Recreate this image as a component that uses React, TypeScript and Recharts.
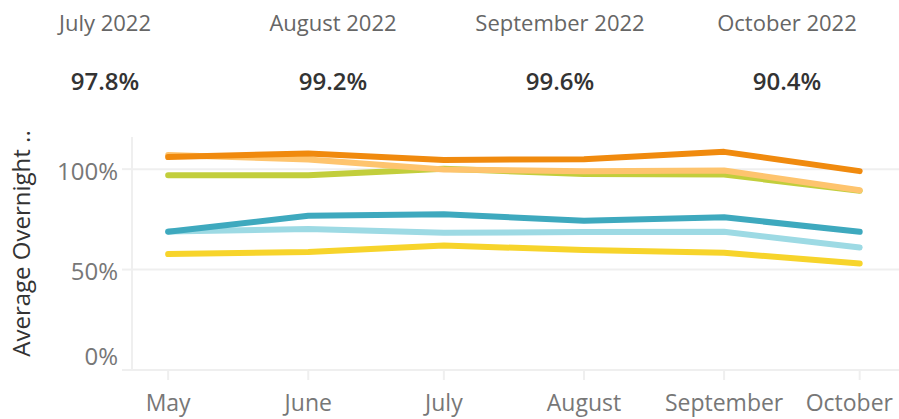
import React from 'react';
import { LineChart, Line, XAxis, YAxis, CartesianGrid } from 'recharts';

// day offsets from May 1 (time axis)
const monthDays = [0, 31, 61, 92, 123, 153];
const monthLabels = ['May', 'June', 'July', 'August', 'September', 'October'];

const darkOrange = [106, 107.8, 104.6, 104.9, 108.6, 99];
const lightOrange = [107, 104.8, 99.8, 99, 99.3, 89.5];
const lime = [97, 97, 100.2, 97.6, 97.3, 89.2];
const teal = [68.8, 76.8, 77.5, 74.3, 76, 68.8];
const lightBlue = [69, 70.2, 68.3, 68.7, 68.8, 61];
const yellow = [57.7, 58.7, 62, 59.7, 58.4, 53];

const headerTitles = ['July 2022', 'August 2022', 'September 2022', 'October 2022'];
const headerValues = ['97.8%', '99.2%', '99.6%', '90.4%'];
const yTicks = [0, 50, 100];

const data = monthDays.map((d, i) => ({
  d,
  darkOrange: darkOrange[i],
  lightOrange: lightOrange[i],
  lime: lime[i],
  teal: teal[i],
  lightBlue: lightBlue[i],
  yellow: yellow[i],
}));

const series = [
  { key: 'yellow', color: '#F7D42B' },
  { key: 'lightBlue', color: '#9DDAE4' },
  { key: 'teal', color: '#3EA9BE' },
  { key: 'lime', color: '#C2CE3C' },
  { key: 'lightOrange', color: '#FEC46E' },
  { key: 'darkOrange', color: '#F08A0E' },
];

const FONT = '"Open Sans", sans-serif';
const W = 899;
const H = 419;

const XTick = (props: any) => {
  const { x, y, payload, index } = props;
  const last = index === monthDays.length - 1;
  const label = monthLabels[monthDays.indexOf(payload.value)] ?? '';
  return (
    <text
      x={last ? 893 : x}
      y={y}
      dy="0.71em"
      textAnchor={last ? 'end' : 'middle'}
      fill="#777"
      fontSize={23}
      fontFamily={FONT}
    >
      {label}
    </text>
  );
};

const YTick = (props: any) => {
  const { x, y, payload } = props;
  const shift = payload.value === 0 ? -14 : 2;
  return (
    <text x={x} y={y + shift} dy="0.355em" textAnchor="end" fill="#777" fontSize={24} fontFamily={FONT}>
      {`${payload.value}%`}
    </text>
  );
};

const centers = [105, 333, 560, 787];

export default function App() {
  return (
    <div style={{ position: 'absolute', left: 0, top: 0, width: W, height: H, background: '#fff', fontFamily: FONT }}>
      <LineChart width={W} height={H} data={data} margin={{ top: 137, right: 0, bottom: 0, left: 0 }}>
        <CartesianGrid vertical={false} stroke="#efefef" strokeWidth={2} horizontalValues={[50, 100]} />
        <XAxis
          dataKey="d"
          type="number"
          domain={[-8, 161.7]}
          ticks={monthDays}
          height={49}
          tickSize={10}
          tickMargin={15}
          tickLine={{ stroke: '#efefef', strokeWidth: 2 }}
          axisLine={{ stroke: '#efefef', strokeWidth: 2 }}
          tick={<XTick />}
          interval={0}
        />
        <YAxis
          type="number"
          domain={[0, 116]}
          ticks={yTicks}
          width={132}
          tickSize={10}
          tickMargin={4}
          tick={<YTick />}
          tickLine={{ stroke: '#efefef', strokeWidth: 2 }}
          axisLine={{ stroke: '#efefef', strokeWidth: 2 }}
          interval={0}
        />
        {series.map((s) => (
          <Line
            key={s.key}
            dataKey={s.key}
            type="linear"
            stroke={s.color}
            strokeWidth={6}
            strokeLinecap="round"
            strokeLinejoin="round"
            dot={false}
            activeDot={false}
            isAnimationActive={false}
          />
        ))}
      </LineChart>
      <svg width={W} height={H} style={{ position: 'absolute', left: 0, top: 0, pointerEvents: 'none' }}>
        {headerTitles.map((t, i) => (
          <text key={t} x={centers[i]} y={31} textAnchor="middle" fill="#666" fontSize={22} fontFamily={FONT}>
            {t}
          </text>
        ))}
        {headerValues.map((v, i) => (
          <text key={v + i} x={centers[i]} y={90} textAnchor="middle" fill="#333" fontSize={24} fontWeight={600} fontFamily={FONT}>
            {v}
          </text>
        ))}
        <text
          x={30}
          y={243.5}
          transform="rotate(-90 30 243.5)"
          textAnchor="middle"
          fill="#333"
          fontSize={24}
          fontFamily={FONT}
        >
          Average Overnight ..
        </text>
      </svg>
    </div>
  );
}
